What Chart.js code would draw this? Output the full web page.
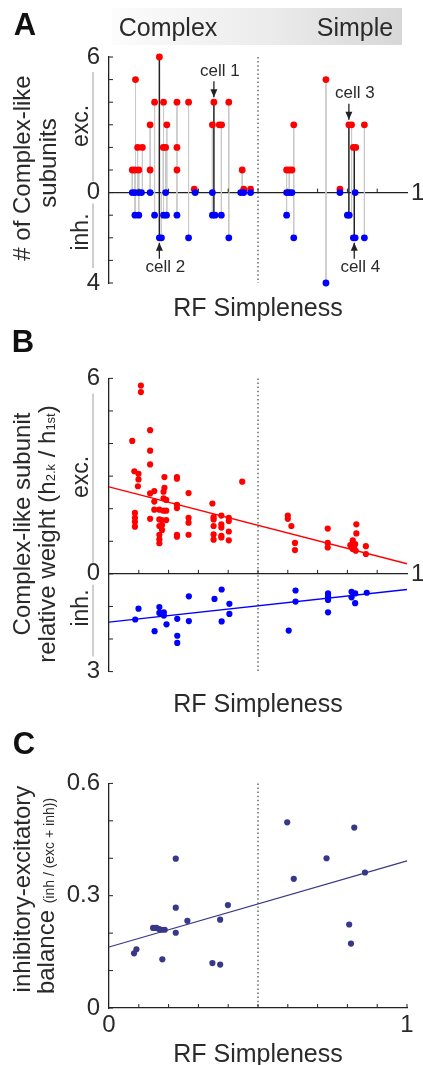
<!DOCTYPE html>
<html lang="en">
<head>
<meta charset="UTF-8">
<title>Complex-like subunits vs RF simpleness</title>
<script src="https://cdn.jsdelivr.net/npm/chart.js"></script>
<style>
  body { margin: 0; background: #fff; }
  #page { position: relative; width: 423px; height: 1065px; overflow: hidden;
          font-family: "Liberation Sans", Arial, sans-serif; color: #2a2a2a; }
  canvas { position: absolute; left: 0; }
  .t { position: absolute; line-height: 1; white-space: nowrap; transform: translate(-50%, -50%); z-index: 2; }
  .r { transform: translate(-50%, -50%) rotate(-90deg); }
  .big { font-size: 24px; }
  .lab { font-size: 31px; font-weight: bold; color: #111; }
  .sm { font-size: 13px; }
  #band { position: absolute; left: 112px; top: 8px; width: 290px; height: 37px;
          background: linear-gradient(to right, #fcfcfc, #ebebeb 55%, #d7d7d7); }
</style>
</head>
<body>
<div id="page">
  <div id="band"></div>
  <div class="t" style="left:168px;top:27px;font-size:25px">Complex</div>
  <div class="t" style="left:355px;top:27px;font-size:25px">Simple</div>

  <div class="t lab" style="left:25px;top:24px">A</div>
  <div class="t lab" style="left:23px;top:341px">B</div>
  <div class="t lab" style="left:24px;top:743px">C</div>

  <div class="t r big" style="left:22px;top:168px"># of Complex-like</div>
  <div class="t r big" style="left:48px;top:163px">subunits</div>
  <div class="t r" style="left:80px;top:126px;font-size:23px">exc.</div>
  <div class="t r" style="left:80px;top:232px;font-size:23px">inh.</div>

  <div class="t r big" style="left:22px;top:524px">Complex-like subunit</div>
  <div class="t r big" style="left:47px;top:534px">relative weight (h<span class="sm">2.k</span> / h<span class="sm">1st</span>)</div>
  <div class="t r" style="left:80px;top:477px;font-size:23px">exc.</div>
  <div class="t r" style="left:80px;top:608px;font-size:23px">inh.</div>

  <div class="t r big" style="left:22px;top:889px">inhibitory-excitatory</div>
  <div class="t r big" style="left:46px;top:896px">balance <span style="font-size:14px">(inh / (exc + inh))</span></div>

  <div class="t" style="left:258px;top:307px;font-size:25px">RF Simpleness</div>
  <div class="t" style="left:258px;top:703px;font-size:25px">RF Simpleness</div>
  <div class="t" style="left:258px;top:1053px;font-size:25px">RF Simpleness</div>

  <canvas id="chartA" width="423" height="285" style="top:30px"></canvas>
  <canvas id="chartB" width="423" height="340" style="top:355px"></canvas>
  <canvas id="chartC" width="423" height="305" style="top:760px"></canvas>
</div>

<script>
// ---------- Panel A: number of complex-like subunits per cell ----------
const aExcX = [0.169, 0.089, 0.728, 0.153, 0.183, 0.228, 0.267, 0.352, 0.402,
               0.138, 0.194, 0.347, 0.370, 0.378, 0.620, 0.805, 0.814, 0.857,
               0.096, 0.112, 0.182, 0.190, 0.228, 0.820, 0.828,
               0.078, 0.087, 0.100, 0.138, 0.228, 0.447, 0.596, 0.605, 0.614,
               0.286, 0.452, 0.475, 0.775];
const aExcY = [6, 5, 5, 4, 4, 4, 4, 4, 4,
               3, 3, 3, 3, 3, 3, 3, 3, 3,
               2, 2, 2, 2, 2, 2, 2,
               1, 1, 1, 1, 1, 1, 1, 1, 1,
               0.15, 0.15, 0.15, 0.15];
const aInhX = [0.078, 0.087, 0.100, 0.109, 0.138, 0.190, 0.289, 0.347, 0.442, 0.452, 0.475, 0.596, 0.605, 0.614, 0.775, 0.826,
               0.087, 0.100, 0.153, 0.183, 0.193, 0.228, 0.347, 0.356, 0.377, 0.596, 0.800, 0.806,
               0.169, 0.176, 0.267, 0.402, 0.620, 0.820, 0.826, 0.857,
               0.728];
const aInhY = [0, 0, 0, 0, 0, 0, 0, 0, 0, 0, 0, 0, 0, 0, 0, 0,
               -1, -1, -1, -1, -1, -1, -1, -1, -1, -1, -1, -1,
               -2, -2, -2, -2, -2, -2, -2, -2,
               -4];
// grey stems joining the exc and inh counts of one cell
const aStemX   = [0.078, 0.087, 0.089, 0.096, 0.100, 0.112, 0.138, 0.153, 0.176, 0.182, 0.183, 0.190, 0.194, 0.228, 0.267,
                  0.347, 0.377, 0.402, 0.447, 0.596, 0.605, 0.620, 0.728, 0.814, 0.857];
const aStemTop = [1, 1, 5, 2, 1, 2, 3, 4, 0, 2, 4, 2, 3, 4, 4, 3, 3, 4, 1, 1, 1, 3, 5, 3, 3];
const aStemBot = [0, -1, -1, 0, -1, 0, 0, -1, -2, 0, -1, 0, -1, -1, -2, -1, -1, -2, 0, -1, 0, -2, -4, -1, -2];
// example cells (dark stems)
const aCellX    = [0.352, 0.169, 0.805, 0.823];
const aCellTop  = [4, 6, 3, 2];
const aCellBot  = [-1, -2, -1, -2];
const aCellName = ['cell 1', 'cell 2', 'cell 3', 'cell 4'];

// ---------- Panel B: relative weight of complex-like subunits ----------
const bExcX = [0.107, 0.107, 0.078, 0.138, 0.138, 0.138, 0.085, 0.099, 0.099, 0.097, 0.138, 0.152, 0.152, 0.152, 0.138,
               0.087, 0.087, 0.087, 0.087, 0.186, 0.186, 0.183, 0.183, 0.192, 0.169, 0.169, 0.169, 0.169, 0.169, 0.169,
               0.183, 0.177, 0.192, 0.192, 0.178, 0.178, 0.228, 0.228, 0.228, 0.228, 0.228, 0.228,
               0.267, 0.267, 0.267, 0.267, 0.447, 0.347, 0.351, 0.351, 0.351, 0.351, 0.351,
               0.377, 0.377, 0.377, 0.377, 0.377, 0.402, 0.402, 0.402, 0.402,
               0.600, 0.600, 0.612, 0.624, 0.624, 0.734, 0.734, 0.734,
               0.818, 0.818, 0.818, 0.818, 0.826, 0.822, 0.828, 0.830, 0.830, 0.810, 0.814, 0.862, 0.862];
const bExcY = [5.78, 5.58, 4.08, 4.41, 3.78, 3.36, 3.15, 3.07, 2.90, 2.69, 2.47, 2.54, 2.22, 1.97, 1.69,
               1.87, 1.72, 1.60, 1.45, 2.97, 2.64, 2.52, 2.32, 2.27, 1.97, 1.67, 1.47, 1.20, 1.06, 0.94,
               1.94, 1.65, 1.65, 1.94, 1.50, 1.35, 2.97, 2.92, 2.12, 2.02, 1.20, 1.14,
               2.48, 1.72, 1.57, 1.20, 2.83, 2.16, 1.74, 1.67, 1.47, 1.21, 1.05,
               1.79, 1.52, 1.42, 1.17, 1.12, 1.72, 1.62, 1.30, 1.03,
               1.79, 1.69, 1.47, 0.95, 0.73, 1.39, 0.95, 0.81,
               1.03, 0.93, 0.83, 0.76, 0.91, 0.81, 0.71, 1.52, 1.24, 0.88, 0.83, 0.85, 0.61];
const bInhX = [0.088, 0.099, 0.153, 0.169, 0.169, 0.176, 0.184, 0.184, 0.193, 0.229, 0.229, 0.229, 0.268, 0.268,
               0.354, 0.378, 0.378, 0.404, 0.404, 0.603, 0.626, 0.626, 0.735, 0.735, 0.735, 0.735,
               0.814, 0.814, 0.826, 0.826, 0.865];
const bInhY = [-1.40, -1.07, -1.76, -1.02, -1.20, -1.22, -1.18, -1.28, -1.55, -1.38, -1.90, -2.12, -0.69, -1.45,
               -0.77, -0.48, -1.46, -0.92, -1.23, -1.74, -0.51, -0.85, -0.60, -0.70, -0.80, -1.18,
               -0.55, -0.72, -0.60, -0.90, -0.58];
const bExcFit = [2.67, 0.31];   // value at simpleness 0 and 1
const bInhFit = [-1.48, -0.48];

// ---------- Panel C: inhibitory-excitatory balance ----------
const cX = [0.084, 0.092, 0.148, 0.159, 0.168, 0.176, 0.187, 0.179, 0.224, 0.224, 0.224, 0.263,
            0.347, 0.373, 0.373, 0.399, 0.598, 0.620, 0.730, 0.806, 0.812, 0.823, 0.859];
const cY = [0.146, 0.157, 0.214, 0.214, 0.211, 0.209, 0.209, 0.130, 0.399, 0.268, 0.201, 0.233,
            0.120, 0.116, 0.236, 0.275, 0.496, 0.345, 0.400, 0.223, 0.172, 0.482, 0.362];
const cFit = [0.163, 0.393];

const FONT = '"Liberation Sans", Arial, sans-serif';
const INK = '#2a2a2a';
const RED = '#ff0000', BLUE = '#0000ff', NAVY = '#383888';

const pts = (xs, ys) => xs.map((x, i) => ({ x: x, y: ys[i] }));
const segs = (xs, top, bot) => xs.flatMap((x, i) => [{ x: x, y: top[i] }, { x: x, y: bot[i] }, { x: x, y: null }]);
const fitLine = f => [{ x: 0, y: f[0] }, { x: 1, y: f[1] }];

function dots(data, color, r) {
  return { type: 'scatter', data: data, backgroundColor: color, borderWidth: 0, pointRadius: r,
           pointHoverRadius: r, order: 1, clip: false };
}
function line(data, color, w, order, dash) {
  return { type: 'line', data: data, borderColor: color, borderWidth: w, pointRadius: 0, clip: false,
           fill: false, spanGaps: false, tension: 0, order: order, borderDash: dash || [] };
}

// inward ticks, the "1" at the end of the axis, exc/inh rule and the cell arrows
const deco = {
  id: 'deco',
  afterDraw(chart, args, o) {
    const { ctx, chartArea: a } = chart;
    const x = chart.scales.x, y = chart.scales.y;
    const y0 = o.midAxis ? y.getPixelForValue(0) : a.bottom;
    ctx.save();
    ctx.strokeStyle = '#222';
    ctx.lineWidth = 1;
    ctx.beginPath();
    for (let i = 1; i <= o.xTicks; i++) {
      const px = x.getPixelForValue(i / 10);
      ctx.moveTo(px, y0); ctx.lineTo(px, y0 - 4);
    }
    for (let i = 0; i <= o.yN; i++) {
      const py = y.getPixelForValue(y.min + i * o.yStep);
      ctx.moveTo(a.left, py); ctx.lineTo(a.left + 4, py);
    }
    ctx.stroke();

    ctx.fillStyle = INK;
    if (o.midAxis) {
      ctx.font = '24px ' + FONT;
      ctx.textAlign = 'left'; ctx.textBaseline = 'middle';
      ctx.fillText('1', a.right + 4, y0 + 1);
      // grey exc / inh rule
      ctx.strokeStyle = '#b4b4b4';
      ctx.lineWidth = 1.3;
      ctx.beginPath();
      ctx.moveTo(93, a.top + 15); ctx.lineTo(93, y0 - 11);
      ctx.moveTo(93, y0 + 11); ctx.lineTo(93, a.bottom - 15);
      ctx.stroke();
    }
    if (o.cells) {
      ctx.font = '17px ' + FONT;
      ctx.textAlign = 'center'; ctx.textBaseline = 'middle';
      o.cells.x.forEach((cx, i) => {
        const px = x.getPixelForValue(cx);
        const up = i % 2 === 0;
        const tip = up ? y.getPixelForValue(o.cells.top[i]) - 5 : y.getPixelForValue(o.cells.bot[i]) + 5;
        const tail = up ? tip - 16 : tip + 16;
        ctx.strokeStyle = '#222'; ctx.lineWidth = 1.3;
        ctx.beginPath(); ctx.moveTo(px, tail); ctx.lineTo(px, tip); ctx.stroke();
        const d = up ? -1 : 1;
        ctx.beginPath();
        ctx.moveTo(px, tip); ctx.lineTo(px - 3.5, tip + d * 8); ctx.lineTo(px + 3.5, tip + d * 8);
        ctx.closePath(); ctx.fillStyle = '#222'; ctx.fill();
        ctx.fillStyle = INK;
        ctx.fillText(o.cells.name[i], px + 6, up ? tail - 10 : tail + 9);
      });
    }
    ctx.restore();
  }
};

function yAxis(min, max, step, labels) {
  return {
    type: 'linear', min: min, max: max,
    afterFit: s => { s.width = 109; },
    grid: { drawOnChartArea: false, drawTicks: false },
    border: { display: true, color: '#222', width: 1.3 },
    ticks: {
      stepSize: step, autoSkip: false, padding: 9, color: INK,
      font: { family: FONT, size: 24 },
      callback: v => {
        for (const k in labels) { if (Math.abs(v - Number(k)) < 1e-6) return labels[k]; }
        return '';
      }
    }
  };
}

function baseOptions(pad, scales, decoOpts) {
  return {
    responsive: false, animation: false, events: [],
    layout: { padding: pad },
    plugins: { legend: { display: false }, tooltip: { enabled: false }, deco: decoOpts },
    scales: scales
  };
}

// ---- Panel A
new Chart(document.getElementById('chartA'), {
  type: 'scatter',
  data: { datasets: [
    dots(pts(aInhX, aInhY), BLUE, 3.4),
    Object.assign(dots(pts(aExcX, aExcY), RED, 3.4), { order: 2 }),
    line(segs(aCellX, aCellTop, aCellBot), '#222', 1.5, 4),
    line(segs(aStemX, aStemTop, aStemBot), '#c9c9c9', 1, 5),
    line([{ x: 0.5, y: 6 }, { x: 0.5, y: -4 }], '#444', 1.2, 6, [1.5, 2.6])
  ] },
  options: baseOptions({ left: 0, right: 16, top: 27, bottom: 32 }, {
    x: { type: 'linear', min: 0, max: 1, position: { y: 0 },
         grid: { drawOnChartArea: false, drawTicks: false },
         border: { display: true, color: '#222', width: 1.3 },
         ticks: { display: false } },
    y: yAxis(-4, 6, 1, { '6': '6', '0': '0', '-4': '4' })
  }, { midAxis: true, xTicks: 9, yN: 10, yStep: 1,
       cells: { x: aCellX, top: aCellTop, bot: aCellBot, name: aCellName } }),
  plugins: [deco]
});

// ---- Panel B
new Chart(document.getElementById('chartB'), {
  type: 'scatter',
  data: { datasets: [
    line(fitLine(bExcFit), RED, 1.4, 0),
    line(fitLine(bInhFit), BLUE, 1.4, 0),
    dots(pts(bExcX, bExcY), RED, 3.1),
    dots(pts(bInhX, bInhY), BLUE, 3.1),
    line([{ x: 0.5, y: 6 }, { x: 0.5, y: -3 }], '#444', 1.2, 6, [1.5, 2.6])
  ] },
  options: baseOptions({ left: 0, right: 16, top: 23, bottom: 18 }, {
    x: { type: 'linear', min: 0, max: 1, position: { y: 0 },
         grid: { drawOnChartArea: false, drawTicks: false },
         border: { display: true, color: '#222', width: 1.3 },
         ticks: { display: false } },
    y: yAxis(-3, 6, 1, { '6': '6', '0': '0', '-3': '3' })
  }, { midAxis: true, xTicks: 9, yN: 9, yStep: 1 }),
  plugins: [deco]
});

// ---- Panel C
new Chart(document.getElementById('chartC'), {
  type: 'scatter',
  data: { datasets: [
    line(fitLine(cFit), NAVY, 1.2, 0),
    dots(pts(cX, cY), NAVY, 3.1),
    line([{ x: 0.5, y: 0.6 }, { x: 0.5, y: 0 }], '#444', 1.2, 6, [1.5, 2.6])
  ] },
  options: baseOptions({ left: 0, right: 16, top: 19, bottom: 17 }, {
    x: { type: 'linear', min: 0, max: 1, position: 'bottom',
         afterFit: s => { s.height = 40; },
         grid: { drawOnChartArea: false, drawTicks: false },
         border: { display: true, color: '#222', width: 1.3 },
         ticks: { stepSize: 0.1, autoSkip: false, maxRotation: 0, padding: 3, color: INK,
                  font: { family: FONT, size: 24 },
                  callback: v => (v === 0 ? '0' : Math.abs(v - 1) < 1e-6 ? '1' : '') } },
    y: yAxis(0, 0.6, 0.1, { '0': '0', '0.3': '0.3', '0.6': '0.6' })
  }, { midAxis: false, xTicks: 10, yN: 6, yStep: 0.1 }),
  plugins: [deco]
});
</script>
</body>
</html>
